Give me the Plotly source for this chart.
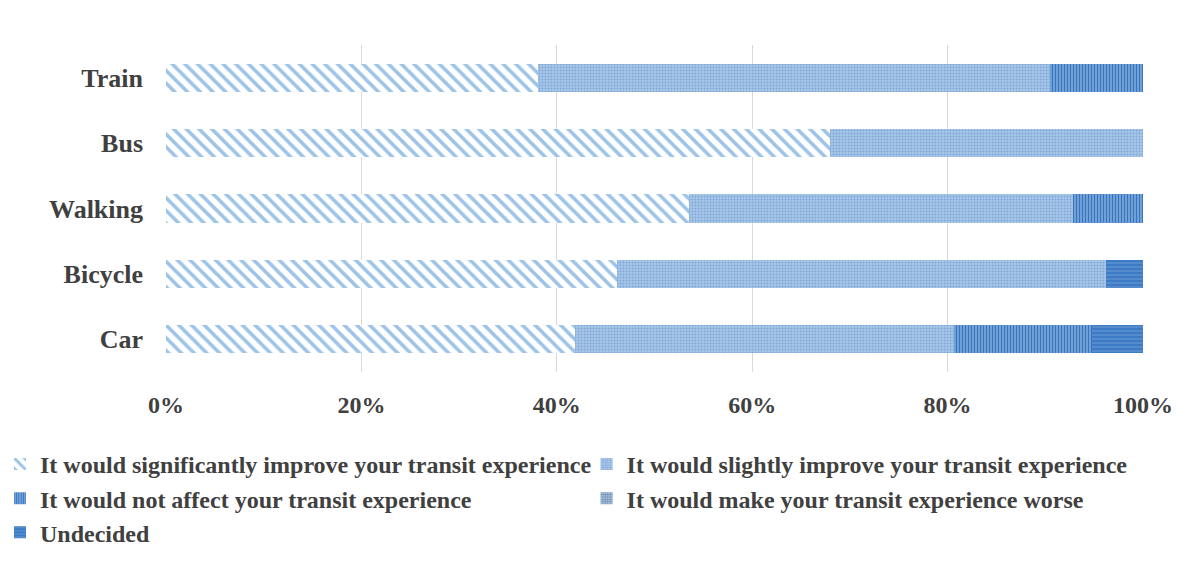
import plotly.graph_objects as go

modes = ["Train", "Bus", "Walking", "Bicycle", "Car"]
series_names = [
    "It would significantly improve your transit experience",
    "It would slightly improve your transit experience",
    "It would not affect your transit experience",
    "It would make your transit experience worse",
    "Undecided",
]
significant = [0.381, 0.680, 0.535, 0.462, 0.419]
slightly = [0.524, 0.320, 0.393, 0.500, 0.388]
not_affect = [0.095, 0.0, 0.072, 0.0, 0.141]
worse = [0.0, 0.0, 0.0, 0.0, 0.0]
undecided = [0.0, 0.0, 0.0, 0.038, 0.052]
x_ticks = [0, 0.2, 0.4, 0.6, 0.8, 1.0]
x_labels = ["0%", "20%", "40%", "60%", "80%", "100%"]

values = [significant, slightly, not_affect, worse, undecided]
patterns = [
    dict(shape="\\", bgcolor="#FFFFFF", fgcolor="#9DC3E6", size=9, solidity=0.4),
    dict(shape=".", bgcolor="#A8C8EA", fgcolor="#7EA6D6", size=3, solidity=0.35),
    dict(shape="|", bgcolor="#7AAAE0", fgcolor="#3C74BC", size=3, solidity=0.45),
    dict(shape="+", bgcolor="#A4BCD8", fgcolor="#6C8CB4", size=3, solidity=0.4),
    dict(shape="-", bgcolor="#3D7BC4", fgcolor="#5C92D2", size=4, solidity=0.35),
]
base_colors = ["#9DC3E6", "#A8C8EA", "#5B93D4", "#8FAAC8", "#3D7BC4"]
legend_ids = ["legend", "legend2", "legend", "legend2", "legend"]

font_family = "Liberation Serif, Times New Roman, serif"
fig = go.Figure()
for name, vals, pat, col, lg in zip(series_names, values, patterns, base_colors, legend_ids):
    fig.add_trace(go.Bar(
        y=modes, x=vals, name=name, orientation="h", legend=lg,
        marker=dict(color=col, line=dict(width=0), pattern=dict(fillmode="replace", **pat)),
        width=0.43,
    ))

legend_font = dict(family=font_family, size=24, color="#404040", weight="bold")
fig.update_layout(
    barmode="stack",
    width=1202, height=565,
    margin=dict(l=166, r=59, t=45, b=193, autoexpand=False),
    paper_bgcolor="white", plot_bgcolor="white",
    font=dict(family=font_family, size=21, color="#404040"),
    showlegend=True,
    legend=dict(
        orientation="v", xref="container", yref="container",
        x=0.0, y=0.218, xanchor="left", yanchor="top",
        bgcolor="rgba(0,0,0,0)",
        font=legend_font, traceorder="normal", itemwidth=30,
    ),
    legend2=dict(
        orientation="v", xref="container", yref="container",
        x=0.488, y=0.218, xanchor="left", yanchor="top",
        bgcolor="rgba(0,0,0,0)",
        font=legend_font, traceorder="normal", itemwidth=30,
    ),
    xaxis=dict(
        range=[0, 1], tickvals=x_ticks, ticktext=x_labels,
        showgrid=True, gridcolor="#D9D9D9", gridwidth=1, zeroline=False,
        showline=False, ticks="", ticklabelstandoff=16,
        tickfont=dict(family=font_family, size=24, color="#404040", weight="bold"),
    ),
    yaxis=dict(
        categoryorder="array", categoryarray=modes[::-1],
        showgrid=False, zeroline=False, showline=False, ticks="",
        ticklabelstandoff=22,
        tickfont=dict(family=font_family, size=26, color="#404040", weight="bold"),
    ),
)
fig.write_html("out.html")
